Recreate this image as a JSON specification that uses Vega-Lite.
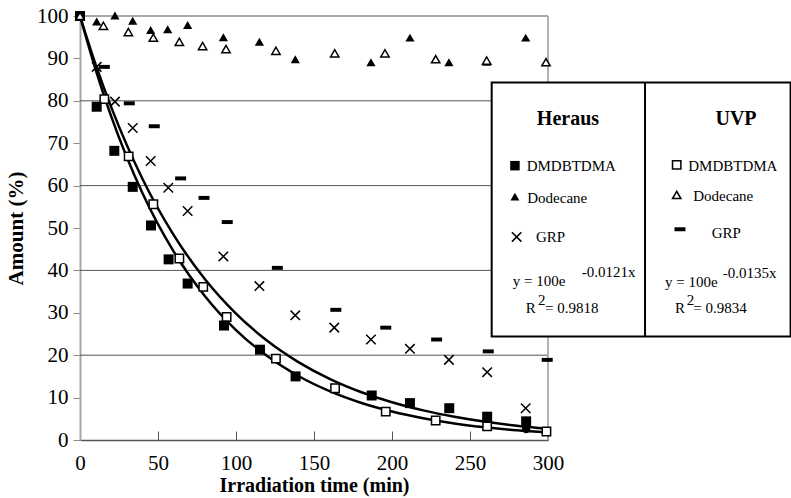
{"width":468,"height":424,"autosize":"none","padding":{"left":80,"top":16,"right":243,"bottom":58},"background":"white",
"config":{"view":{"stroke":null},"point":{"opacity":1,"filled":true},"text":{"fontSize":15,"align":"left","baseline":"alphabetic","color":"black"}},
"datasets":{"g":[{"g":20},{"g":40},{"g":60},{"g":80},{"g":100}],
"f":[{"s":"H","t":0,"v":100},{"s":"H","t":10,"v":88.6},{"s":"H","t":20,"v":78.51},{"s":"H","t":40,"v":61.63},{"s":"H","t":60,"v":48.38},{"s":"H","t":80,"v":37.98},{"s":"H","t":100,"v":29.82},{"s":"H","t":120,"v":23.41},{"s":"H","t":140,"v":18.38},{"s":"H","t":160,"v":14.43},{"s":"H","t":180,"v":11.33},{"s":"H","t":200,"v":8.89},{"s":"H","t":220,"v":6.98},{"s":"H","t":240,"v":5.48},{"s":"H","t":260,"v":4.3},{"s":"H","t":280,"v":3.38},{"s":"H","t":300,"v":2.65},
{"s":"U","t":0,"v":100},{"s":"U","t":10,"v":87.37},{"s":"U","t":20,"v":76.34},{"s":"U","t":40,"v":58.27},{"s":"U","t":60,"v":44.48},{"s":"U","t":80,"v":33.96},{"s":"U","t":100,"v":25.92},{"s":"U","t":120,"v":19.79},{"s":"U","t":140,"v":15.1},{"s":"U","t":160,"v":11.53},{"s":"U","t":180,"v":8.8},{"s":"U","t":200,"v":6.72},{"s":"U","t":220,"v":5.13},{"s":"U","t":240,"v":3.91},{"s":"U","t":260,"v":2.99},{"s":"U","t":280,"v":2.28},{"s":"U","t":300,"v":1.74}],
"p":[{"s":"UD","t":0,"v":100},{"s":"UD","t":15.6,"v":80.4},{"s":"UD","t":31.2,"v":66.9},{"s":"UD","t":47,"v":55.6},{"s":"UD","t":63.7,"v":42.8},{"s":"UD","t":79,"v":36.1},{"s":"UD","t":94,"v":29},{"s":"UD","t":125.6,"v":19.2},{"s":"UD","t":163.5,"v":12.2},{"s":"UD","t":196,"v":6.7},{"s":"UD","t":228,"v":4.6},{"s":"UD","t":261,"v":3.2},{"s":"UD","t":299,"v":2},
{"s":"HD","t":0,"v":100},{"s":"HD","t":10.7,"v":78.6},{"s":"HD","t":22,"v":68.2},{"s":"HD","t":33.8,"v":59.7},{"s":"HD","t":45.5,"v":50.6},{"s":"HD","t":56.8,"v":42.6},{"s":"HD","t":69,"v":36.9},{"s":"HD","t":92.3,"v":27},{"s":"HD","t":115.4,"v":21.3},{"s":"HD","t":138.2,"v":15},{"s":"HD","t":187,"v":10.5},{"s":"HD","t":211.5,"v":8.7},{"s":"HD","t":236.7,"v":7.5},{"s":"HD","t":261,"v":5.5},{"s":"HD","t":286,"v":4.4},
{"s":"HC","t":0,"v":100},{"s":"HC","t":10.7,"v":98.7},{"s":"HC","t":22.4,"v":100.1},{"s":"HC","t":33.8,"v":98.9},{"s":"HC","t":45.3,"v":96.7},{"s":"HC","t":56.2,"v":96.9},{"s":"HC","t":69,"v":97.9},{"s":"HC","t":91.9,"v":95},{"s":"HC","t":115,"v":93.9},{"s":"HC","t":138,"v":89.8},{"s":"HC","t":186.5,"v":89.1},{"s":"HC","t":211.5,"v":94.9},{"s":"HC","t":236.5,"v":89.1},{"s":"HC","t":260.7,"v":89.2},{"s":"HC","t":285.7,"v":94.9},
{"s":"UC","t":0,"v":100},{"s":"UC","t":15,"v":97.7},{"s":"UC","t":31,"v":96.2},{"s":"UC","t":47,"v":94.9},{"s":"UC","t":63.7,"v":93.9},{"s":"UC","t":78.6,"v":92.9},{"s":"UC","t":93.6,"v":92.2},{"s":"UC","t":125.6,"v":91.8},{"s":"UC","t":163.3,"v":91.2},{"s":"UC","t":195.5,"v":91.2},{"s":"UC","t":228,"v":89.8},{"s":"UC","t":260.7,"v":89.5},{"s":"UC","t":298.7,"v":89.1},
{"s":"HG","t":10.7,"v":88},{"s":"HG","t":22.4,"v":79.8},{"s":"HG","t":33.8,"v":73.6},{"s":"HG","t":45.3,"v":65.8},{"s":"HG","t":56.6,"v":59.5},{"s":"HG","t":69,"v":54},{"s":"HG","t":91.9,"v":43.3},{"s":"HG","t":115,"v":36.3},{"s":"HG","t":138,"v":29.4},{"s":"HG","t":163,"v":26.5},{"s":"HG","t":186.5,"v":23.7},{"s":"HG","t":211.5,"v":21.5},{"s":"HG","t":236.5,"v":18.9},{"s":"HG","t":261,"v":16},{"s":"HG","t":285.7,"v":7.5},
{"s":"UG","t":15.6,"v":88},{"s":"UG","t":31.6,"v":79.4},{"s":"UG","t":47.6,"v":74},{"s":"UG","t":64.5,"v":61.7},{"s":"UG","t":79.5,"v":57.1},{"s":"UG","t":94.4,"v":51.4},{"s":"UG","t":126.5,"v":40.6},{"s":"UG","t":164,"v":30.7},{"s":"UG","t":196,"v":26.5},{"s":"UG","t":228.6,"v":23.7},{"s":"UG","t":261.7,"v":20.9},{"s":"UG","t":299.5,"v":18.9},
{"s":"HO","t":286,"v":2.6}]},
"data":{"values":[{}]},
"layer":[
{"data":{"name":"g"},"mark":{"type":"rule","color":"#555","strokeWidth":1},"encoding":{"y":{"field":"g","type":"quantitative","scale":{"domain":[0,100],"nice":false,"zero":false},"axis":{"values":[0,10,20,30,40,50,60,70,80,90,100],"title":"Amount (%)","titleFont":"Liberation Serif","titleFontSize":21,"titleFontWeight":"bold","titleColor":"black","titlePadding":10,"labelFont":"Liberation Serif","labelFontSize":21,"labelColor":"black","labelPadding":5,"tickSize":7,"tickColor":"#888","domainColor":"#a6a6a6","domainWidth":2,"grid":false}}}},
{"mark":{"type":"rule","color":"#999","strokeWidth":1.5},"encoding":{"x":{"datum":300,"type":"quantitative"},"y":{"datum":0,"type":"quantitative"},"y2":{"datum":100}}},
{"data":{"name":"f"},"mark":{"type":"line","color":"black","strokeWidth":2.5,"interpolate":"monotone"},"encoding":{"x":{"field":"t","type":"quantitative","scale":{"domain":[0,300],"nice":false,"zero":false},"axis":{"values":[0,50,100,150,200,250,300],"title":"Irradiation time (min)","titleFont":"Liberation Serif","titleFontSize":20,"titleFontWeight":"bold","titleColor":"black","titlePadding":2,"labelFont":"Liberation Serif","labelFontSize":21,"labelColor":"black","labelPadding":21,"tickSize":-9,"tickColor":"#555","domainColor":"#555","domainWidth":1.5,"grid":false,"labelFlush":false}},"y":{"field":"v","type":"quantitative"},"detail":{"field":"s"}}},
{"data":{"name":"p"},"transform":[{"filter":"datum.s==='UD'"}],"mark":{"type":"point","shape":"square","fill":"white","stroke":"black","strokeWidth":1.5,"size":70},"encoding":{"x":{"field":"t","type":"quantitative"},"y":{"field":"v","type":"quantitative"}}},
{"data":{"name":"p"},"transform":[{"filter":"datum.s==='HD'"}],"mark":{"type":"point","shape":"square","color":"black","size":100},"encoding":{"x":{"field":"t","type":"quantitative"},"y":{"field":"v","type":"quantitative"}}},
{"data":{"name":"p"},"transform":[{"filter":"datum.s==='HC'"}],"mark":{"type":"point","shape":"triangle-up","color":"black","size":85},"encoding":{"x":{"field":"t","type":"quantitative"},"y":{"field":"v","type":"quantitative"}}},
{"data":{"name":"p"},"transform":[{"filter":"datum.s==='UC'"}],"mark":{"type":"point","shape":"triangle-up","fill":"white","stroke":"black","strokeWidth":1.5,"size":70},"encoding":{"x":{"field":"t","type":"quantitative"},"y":{"field":"v","type":"quantitative"}}},
{"data":{"name":"p"},"transform":[{"filter":"datum.s==='HG'"}],"mark":{"type":"point","shape":"M-1,-1L1,1M-1,1L1,-1","filled":false,"stroke":"black","strokeWidth":1.5,"size":90},"encoding":{"x":{"field":"t","type":"quantitative"},"y":{"field":"v","type":"quantitative"}}},
{"data":{"name":"p"},"transform":[{"filter":"datum.s==='UG'"}],"mark":{"type":"point","shape":"M-1,-0.36H1V0.36H-1Z","color":"black","size":121},"encoding":{"x":{"field":"t","type":"quantitative"},"y":{"field":"v","type":"quantitative"}}},
{"data":{"name":"p"},"transform":[{"filter":"datum.s==='HO'"}],"mark":{"type":"point","shape":"circle","color":"black","size":70},"encoding":{"x":{"field":"t","type":"quantitative"},"y":{"field":"v","type":"quantitative"}}},
{"mark":{"type":"rect","fill":"white","stroke":"black","strokeWidth":2},"encoding":{"x":{"datum":263.9,"type":"quantitative"},"x2":{"datum":455.5},"y":{"datum":84.3,"type":"quantitative"},"y2":{"datum":24.4}}},
{"mark":{"type":"rule","color":"black","strokeWidth":2},"encoding":{"x":{"datum":362.2,"type":"quantitative"},"y":{"datum":84.3,"type":"quantitative"},"y2":{"datum":24.4}}},
{"mark":{"type":"text","text":"Heraus","font":"Liberation Serif","fontSize":20,"fontWeight":"bold","align":"center"},"encoding":{"x":{"datum":312.8,"type":"quantitative"},"y":{"datum":74.3,"type":"quantitative"}}},
{"mark":{"type":"text","text":"UVP","font":"Liberation Serif","fontSize":20,"fontWeight":"bold","align":"center"},"encoding":{"x":{"datum":420.5,"type":"quantitative"},"y":{"datum":74.3,"type":"quantitative"}}},
{"mark":{"type":"point","shape":"square","color":"black","size":90},"encoding":{"x":{"datum":278.8,"type":"quantitative"},"y":{"datum":64.7,"type":"quantitative"}}},
{"mark":{"type":"point","shape":"triangle-up","color":"black","size":80},"encoding":{"x":{"datum":278.8,"type":"quantitative"},"y":{"datum":57.4,"type":"quantitative"}}},
{"mark":{"type":"point","shape":"M-1,-1L1,1M-1,1L1,-1","filled":false,"stroke":"black","strokeWidth":1.5,"size":90},"encoding":{"x":{"datum":279.9,"type":"quantitative"},"y":{"datum":47.9,"type":"quantitative"}}},
{"mark":{"type":"point","shape":"square","fill":"white","stroke":"black","strokeWidth":1.5,"size":70},"encoding":{"x":{"datum":382.5,"type":"quantitative"},"y":{"datum":64.9,"type":"quantitative"}}},
{"mark":{"type":"point","shape":"triangle-up","fill":"white","stroke":"black","strokeWidth":1.5,"size":70},"encoding":{"x":{"datum":382.5,"type":"quantitative"},"y":{"datum":57.8,"type":"quantitative"}}},
{"mark":{"type":"point","shape":"M-1,-0.36H1V0.36H-1Z","color":"black","size":121},"encoding":{"x":{"datum":384.6,"type":"quantitative"},"y":{"datum":49.7,"type":"quantitative"}}},
{"mark":{"type":"text","text":"DMDBTDMA","font":"Liberation Serif"},"encoding":{"x":{"datum":286.3,"type":"quantitative"},"y":{"datum":63.4,"type":"quantitative"}}},
{"mark":{"type":"text","text":"Dodecane","font":"Liberation Serif"},"encoding":{"x":{"datum":286.7,"type":"quantitative"},"y":{"datum":56,"type":"quantitative"}}},
{"mark":{"type":"text","text":"GRP","font":"Liberation Serif"},"encoding":{"x":{"datum":292.3,"type":"quantitative"},"y":{"datum":46.6,"type":"quantitative"}}},
{"mark":{"type":"text","text":"y = 100e","font":"Liberation Serif"},"encoding":{"x":{"datum":277.4,"type":"quantitative"},"y":{"datum":36.3,"type":"quantitative"}}},
{"mark":{"type":"text","text":"-0.0121x","font":"Liberation Serif"},"encoding":{"x":{"datum":321.6,"type":"quantitative"},"y":{"datum":38.5,"type":"quantitative"}}},
{"mark":{"type":"text","text":"R","font":"Liberation Serif"},"encoding":{"x":{"datum":285.7,"type":"quantitative"},"y":{"datum":29.9,"type":"quantitative"}}},
{"mark":{"type":"text","text":"2","font":"Liberation Serif"},"encoding":{"x":{"datum":293.6,"type":"quantitative"},"y":{"datum":31.8,"type":"quantitative"}}},
{"mark":{"type":"text","text":"= 0.9818","font":"Liberation Serif"},"encoding":{"x":{"datum":298.1,"type":"quantitative"},"y":{"datum":29.9,"type":"quantitative"}}},
{"mark":{"type":"text","text":"DMDBTDMA","font":"Liberation Serif"},"encoding":{"x":{"datum":389.9,"type":"quantitative"},"y":{"datum":63.4,"type":"quantitative"}}},
{"mark":{"type":"text","text":"Dodecane","font":"Liberation Serif"},"encoding":{"x":{"datum":393.1,"type":"quantitative"},"y":{"datum":56.4,"type":"quantitative"}}},
{"mark":{"type":"text","text":"GRP","font":"Liberation Serif"},"encoding":{"x":{"datum":404.9,"type":"quantitative"},"y":{"datum":47.6,"type":"quantitative"}}},
{"mark":{"type":"text","text":"y = 100e","font":"Liberation Serif"},"encoding":{"x":{"datum":375,"type":"quantitative"},"y":{"datum":36.1,"type":"quantitative"}}},
{"mark":{"type":"text","text":"-0.0135x","font":"Liberation Serif"},"encoding":{"x":{"datum":412,"type":"quantitative"},"y":{"datum":38.2,"type":"quantitative"}}},
{"mark":{"type":"text","text":"R","font":"Liberation Serif"},"encoding":{"x":{"datum":381.4,"type":"quantitative"},"y":{"datum":29.9,"type":"quantitative"}}},
{"mark":{"type":"text","text":"2","font":"Liberation Serif"},"encoding":{"x":{"datum":388.9,"type":"quantitative"},"y":{"datum":31.8,"type":"quantitative"}}},
{"mark":{"type":"text","text":"= 0.9834","font":"Liberation Serif"},"encoding":{"x":{"datum":393.1,"type":"quantitative"},"y":{"datum":29.9,"type":"quantitative"}}}
]}
